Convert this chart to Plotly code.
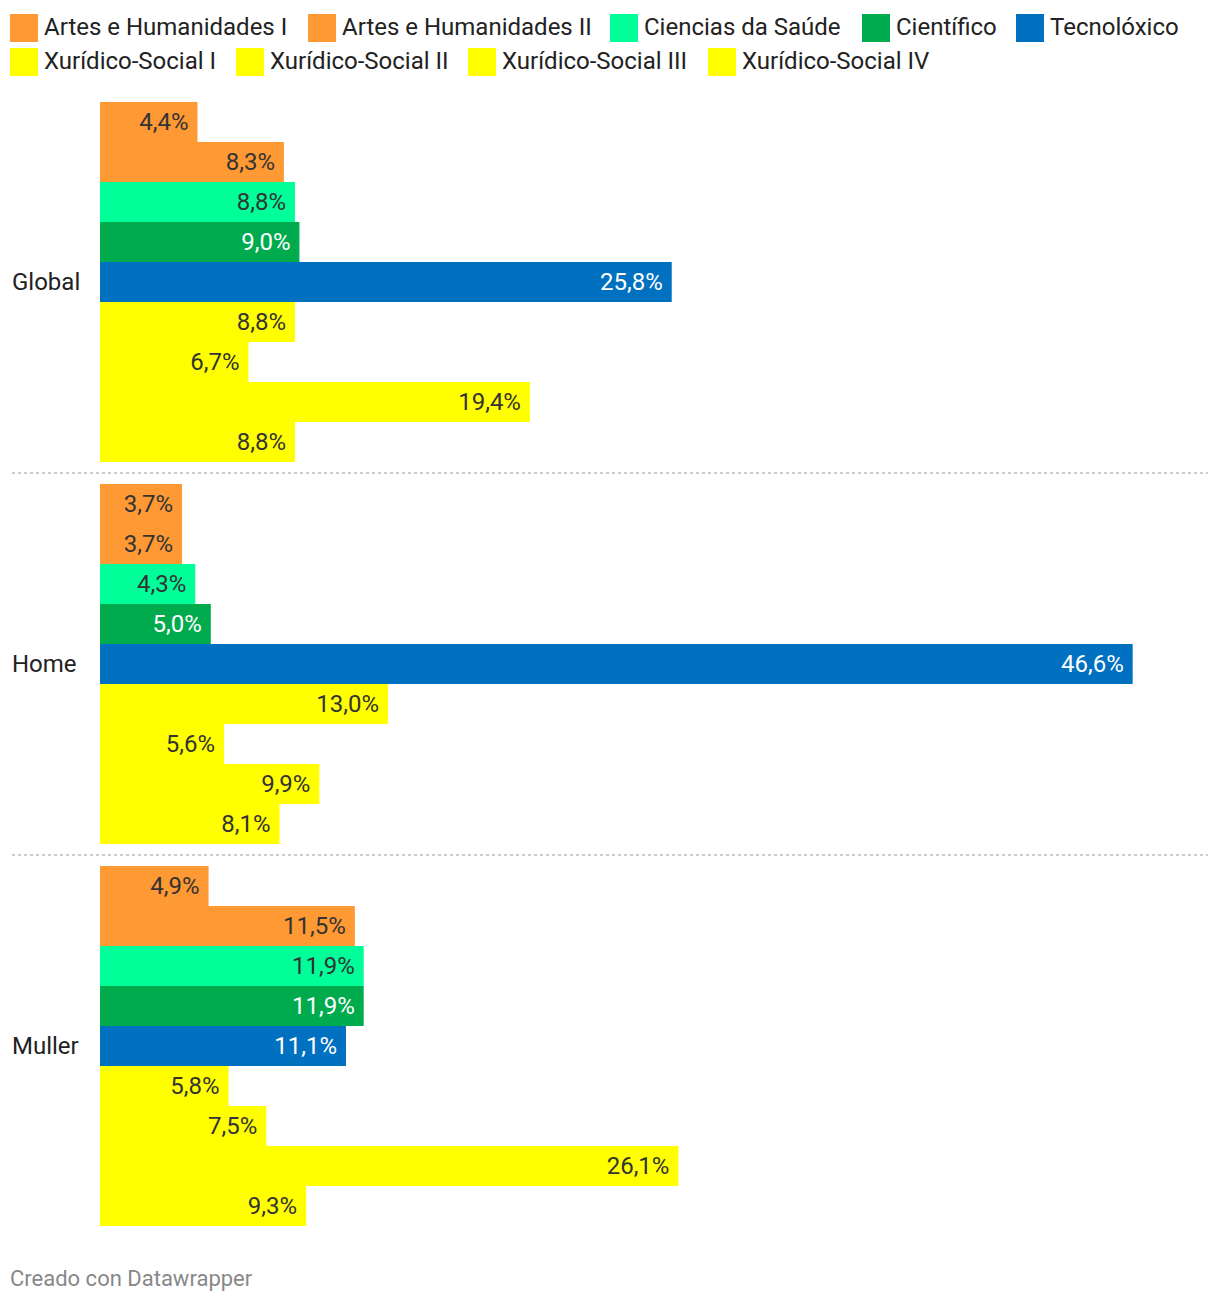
import plotly.graph_objects as go

groups = ["Global", "Home", "Muller"]
series = ["Artes e Humanidades I", "Artes e Humanidades II", "Ciencias da Saúde", "Científico",
          "Tecnolóxico", "Xurídico-Social I", "Xurídico-Social II", "Xurídico-Social III",
          "Xurídico-Social IV"]
values = {
    "Artes e Humanidades I": [4.4, 3.7, 4.9],
    "Artes e Humanidades II": [8.3, 3.7, 11.5],
    "Ciencias da Saúde": [8.8, 4.3, 11.9],
    "Científico": [9.0, 5.0, 11.9],
    "Tecnolóxico": [25.8, 46.6, 11.1],
    "Xurídico-Social I": [8.8, 13.0, 5.8],
    "Xurídico-Social II": [6.7, 5.6, 7.5],
    "Xurídico-Social III": [19.4, 9.9, 26.1],
    "Xurídico-Social IV": [8.8, 8.1, 9.3],
}
colors = ["#ff9933", "#ff9933", "#00ff99", "#00ab4e", "#0070c0",
          "#ffff00", "#ffff00", "#ffff00", "#ffff00"]
text_colors = ["#333333", "#333333", "#333333", "#ffffff", "#ffffff",
               "#333333", "#333333", "#333333", "#333333"]

# page offset (browser body margin)
OFF = 8
W, H = 1212, 1296
ML, MR, MT, MB = 92, 12, 83, 67
PW, PH = W - ML - MR, H - MT - MB

def px(xw):
    return (xw - OFF - ML) / PW

def py(yw):
    return 1 - (yw - OFF - MT) / PH

FONT = "Roboto, sans-serif"

fig = go.Figure()
for s, c, tc in zip(series, colors, text_colors):
    fig.add_trace(go.Bar(
        y=groups, x=values[s], name=s, orientation="h",
        marker=dict(color=c, line=dict(width=0)),
        texttemplate="%{x:.1f}% ",
        textposition="inside", insidetextanchor="end",
        textfont=dict(color=tc, size=24, family=FONT),
        showlegend=False, hoverinfo="skip",
    ))

shapes = []
annotations = []

# separators between groups
for b in [0.5, 1.5]:
    shapes.append(dict(type="line", xref="paper", yref="y", x0=px(12), x1=px(1208),
                       y0=b, y1=b, line=dict(color="#cccccc", width=2, dash="dot")))

# group labels
for g in groups:
    annotations.append(dict(text=g, xref="paper", yref="y", x=px(10), y=g,
                            xanchor="left", yanchor="middle", showarrow=False,
                            font=dict(size=24, color="#222222", family=FONT)))

# manual legend
legend_pos = [(10, 14), (308, 14), (610, 14), (862, 14), (1016, 14),
              (10, 48), (236, 48), (468, 48), (708, 48)]
for s, c, (lx, ly) in zip(series, colors, legend_pos):
    shapes.append(dict(type="rect", xref="paper", yref="paper", x0=px(lx), x1=px(lx + 28),
                       y0=py(ly), y1=py(ly + 28), fillcolor=c, line=dict(width=0)))
    annotations.append(dict(text=s, xref="paper", yref="paper", x=px(lx + 32), y=py(ly + 13),
                            xanchor="left", yanchor="middle", showarrow=False,
                            font=dict(size=24, color="#222222", family=FONT)))

annotations.append(dict(text="Creado con Datawrapper", xref="paper", yref="paper",
                        x=px(8), y=py(1278), xanchor="left", yanchor="middle",
                        showarrow=False, font=dict(size=22, color="#888888", family=FONT)))

fig.update_layout(
    width=W, height=H,
    margin=dict(l=ML, r=MR, t=MT, b=MB),
    paper_bgcolor="white", plot_bgcolor="white",
    barmode="group", bargap=22 / 382, bargroupgap=0,
    separators=",.",
    font=dict(family=FONT),
    xaxis=dict(range=[0, 50], visible=False, fixedrange=True),
    yaxis=dict(autorange="reversed", showticklabels=False, showgrid=False,
               zeroline=False, showline=False, ticks=""),
    shapes=shapes, annotations=annotations,
    uniformtext=dict(minsize=24, mode="show"),
)

fig.write_html("out.html")
